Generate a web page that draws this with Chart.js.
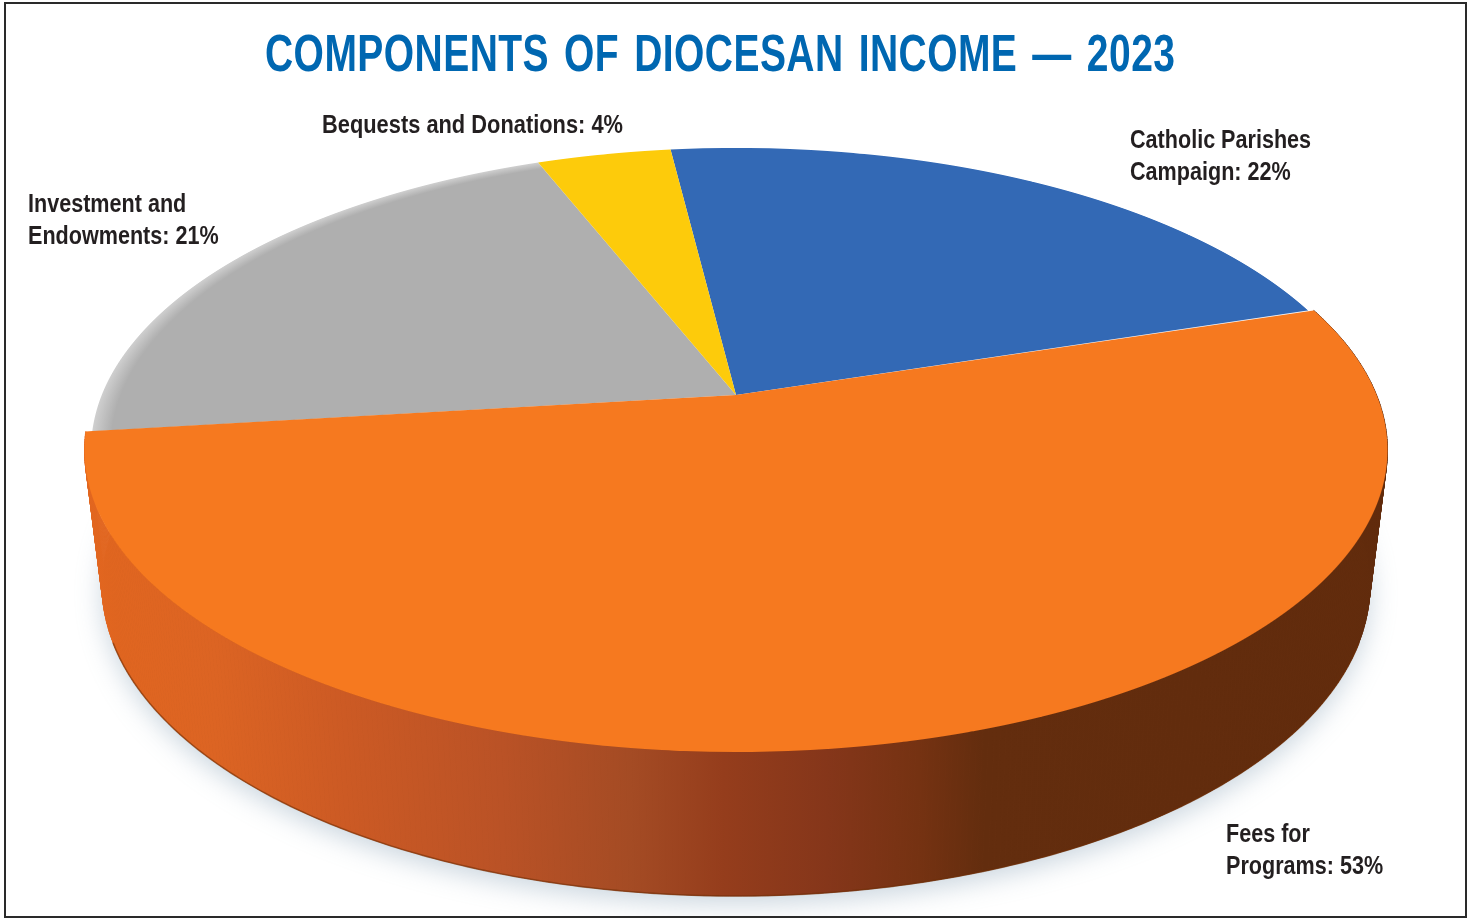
<!DOCTYPE html>
<html lang="en">
<head>
  <meta charset="UTF-8" />
  <title>Components of Diocesan Income - 2023</title>
  <script src="https://cdn.jsdelivr.net/npm/chart.js"></script>
  <style>
    html, body { margin: 0; padding: 0; background: #fff; overflow: hidden; }
    #chartBox { position: relative; width: 1468px; height: 918px; }
    #frame {
      position: absolute; left: 4px; top: 2px; width: 1459px; height: 912px;
      border: 2.5px solid #2a2a2a; pointer-events: none;
    }
  </style>
</head>
<body>
  <div id="chartBox">
    <canvas id="pie" width="1468" height="918"></canvas>
    <div id="frame"></div>
  </div>

  <script>
    // Data
    const titleText = 'COMPONENTS OF DIOCESAN INCOME \u2014 2023';
    const categories = ['Catholic Parishes Campaign', 'Fees for Programs', 'Investment and Endowments', 'Bequests and Donations'];
    const shares = [22, 53, 21, 4];
    const labelFirstLines = ['Catholic Parishes', 'Fees for', 'Investment and', ''];
    const labelLastLines = ['Campaign', 'Programs', 'Endowments', 'Bequests and Donations'];
    const sliceColors = ['#3369b5', '#f6791f', '#afafaf', '#fdcb0b'];

    // No narrow face installed, so the text is squeezed sideways when drawn
    const textFont = '"Liberation Sans", sans-serif';

    // Perspective of the tilted disc: top surface and lower rim
    const tilt = 0.182;
    const topDisc = { cx: 736, cy: 395, a: 640.6, b: 292 };
    const lowDisc = { cx: 736, cy: 528.4, a: 623.4, b: 300.7 };

    function project(disc, u, v) {
      const w = 1 / (1 - tilt * v);
      return { x: disc.cx + disc.a * u * w, y: disc.cy + disc.b * v * w };
    }

    function drawShadow(ctx) {
      ctx.save();
      ctx.beginPath();
      ctx.rect(0, 500, 1468, 418);
      ctx.clip();
      ctx.shadowColor = 'rgba(140,165,185,0.45)';
      ctx.shadowBlur = 26;
      ctx.shadowOffsetY = 8;
      ctx.fillStyle = '#8a4018';
      ctx.beginPath();
      for (let i = 0; i <= 360; i++) {
        const t = i * Math.PI / 180;
        const p = project(lowDisc, Math.cos(t), Math.sin(t));
        ctx.lineTo(p.x, p.y);
      }
      ctx.closePath();
      ctx.fill();
      ctx.restore();
    }

    // Side wall under the big slice, follows the arc's own angles
    function drawWall(ctx, arc) {
      const grad = ctx.createLinearGradient(85, 0, 1388, 0);
      const stops = [[0, '#e2661f'], [0.1, '#dc6423'], [0.2, '#cc5a24'], [0.32, '#ba5226'], [0.42, '#a44b24'],
        [0.49, '#953d1c'], [0.57, '#85361a'], [0.64, '#753212'], [0.69, '#632d0e'], [1, '#612b0c']];
      stops.forEach(s => grad.addColorStop(s[0], s[1]));
      ctx.save();
      ctx.fillStyle = grad;
      ctx.strokeStyle = grad;
      ctx.lineWidth = 0.8;
      const n = 400;
      const step = (arc.endAngle - arc.startAngle) / n;
      for (let i = 0; i < n; i++) {
        const t0 = arc.startAngle + i * step;
        const t1 = t0 + step;
        const a = project(topDisc, Math.cos(t0), Math.sin(t0));
        const b = project(topDisc, Math.cos(t1), Math.sin(t1));
        const c = project(lowDisc, Math.cos(t1), Math.sin(t1));
        const d = project(lowDisc, Math.cos(t0), Math.sin(t0));
        ctx.beginPath();
        ctx.moveTo(a.x, a.y);
        ctx.lineTo(b.x, b.y);
        ctx.lineTo(c.x, c.y);
        ctx.lineTo(d.x, d.y);
        ctx.closePath();
        ctx.fill();
        ctx.stroke();
      }
      // darker line along the bottom edge
      ctx.strokeStyle = 'rgba(110,45,5,0.55)';
      ctx.lineWidth = 1.6;
      ctx.beginPath();
      for (let i = 0; i <= n; i++) {
        const t = arc.startAngle + i * step;
        if (Math.sin(t) < 0.35) continue;
        const p = project(lowDisc, Math.cos(t), Math.sin(t));
        ctx.lineTo(p.x, p.y);
      }
      ctx.stroke();
      ctx.restore();
    }

    // Draw one arc row by row, each pixel row scaled to the perspective at that row
    function drawArcWarped(ctx, arc, xScale, width) {
      const R = arc.outerRadius;
      for (let row = 144; row < 758; row++) {
        const dy = row + 0.5 - topDisc.cy;
        const v = dy / (topDisc.b + tilt * dy);
        const w = 1 / (1 - tilt * v);
        ctx.save();
        ctx.beginPath();
        ctx.rect(0, row, width, 1);
        ctx.clip();
        ctx.translate(topDisc.cx, row + 0.5);
        ctx.scale(topDisc.a * w * xScale / R, topDisc.b * w * w / R);
        ctx.translate(-arc.x, -(arc.y + v * R));
        arc.draw(ctx);
        ctx.restore();
      }
    }

    function squeezedText(ctx, text, x, y, squeeze) {
      ctx.save();
      ctx.translate(x, y);
      ctx.scale(squeeze, 1);
      ctx.fillText(text, 0, 0);
      ctx.restore();
    }

    const tiltedPie = {
      id: 'tiltedPie',
      beforeDatasetsDraw(chart) {
        const ctx = chart.ctx;
        const arcs = chart.getDatasetMeta(0).data;
        drawShadow(ctx);
        drawWall(ctx, arcs[1]);
        // big slice last, it sits a little proud of the others
        [0, 2, 3].forEach(i => drawArcWarped(ctx, arcs[i], 0.99, chart.width));
        drawArcWarped(ctx, arcs[1], 1, chart.width);
      },
      beforeDatasetDraw() {
        return false;
      },
      afterDraw(chart) {
        const ctx = chart.ctx;
        const spots = [[1130, 148], [1226, 842], [28, 212], [322, 133]];
        ctx.save();
        ctx.textBaseline = 'alphabetic';
        ctx.textAlign = 'left';
        ctx.fillStyle = '#0067b1';
        ctx.font = 'bold 52px ' + textFont;
        ctx.letterSpacing = '0.6px';
        ctx.wordSpacing = '5px';
        squeezedText(ctx, titleText, 265, 71, 0.75);
        ctx.letterSpacing = '0px';
        ctx.wordSpacing = '0px';
        ctx.fillStyle = '#231f20';
        ctx.font = 'bold 26px ' + textFont;
        categories.forEach((c, i) => {
          const last = labelLastLines[i] + ': ' + shares[i] + '%';
          if (labelFirstLines[i]) {
            squeezedText(ctx, labelFirstLines[i], spots[i][0], spots[i][1], 0.83);
            squeezedText(ctx, last, spots[i][0], spots[i][1] + 32, 0.83);
          } else {
            squeezedText(ctx, last, spots[i][0], spots[i][1], 0.84);
          }
        });
        ctx.restore();
      }
    };

    new Chart(document.getElementById('pie'), {
      type: 'pie',
      data: {
        labels: categories,
        datasets: [{
          data: shares,
          borderWidth: 0,
          backgroundColor(c) {
            if (c.dataIndex !== 2 || !c.chart.chartArea) return sliceColors[c.dataIndex];
            // grey slice has a soft light rim
            const a = c.chart.chartArea;
            const x = (a.left + a.right) / 2, y = (a.top + a.bottom) / 2;
            const r = Math.min(a.right - a.left, a.bottom - a.top) / 2;
            const g = c.chart.ctx.createRadialGradient(x, y, 0, x, y, r);
            g.addColorStop(0, sliceColors[2]);
            g.addColorStop(0.97, sliceColors[2]);
            g.addColorStop(1, '#cfcfcf');
            return g;
          }
        }]
      },
      options: {
        responsive: false,
        animation: false,
        devicePixelRatio: 1,
        rotation: -7,
        plugins: {
          legend: { display: false },
          tooltip: { enabled: false },
          title: { display: false }
        }
      },
      plugins: [tiltedPie]
    });
  </script>
</body>
</html>
